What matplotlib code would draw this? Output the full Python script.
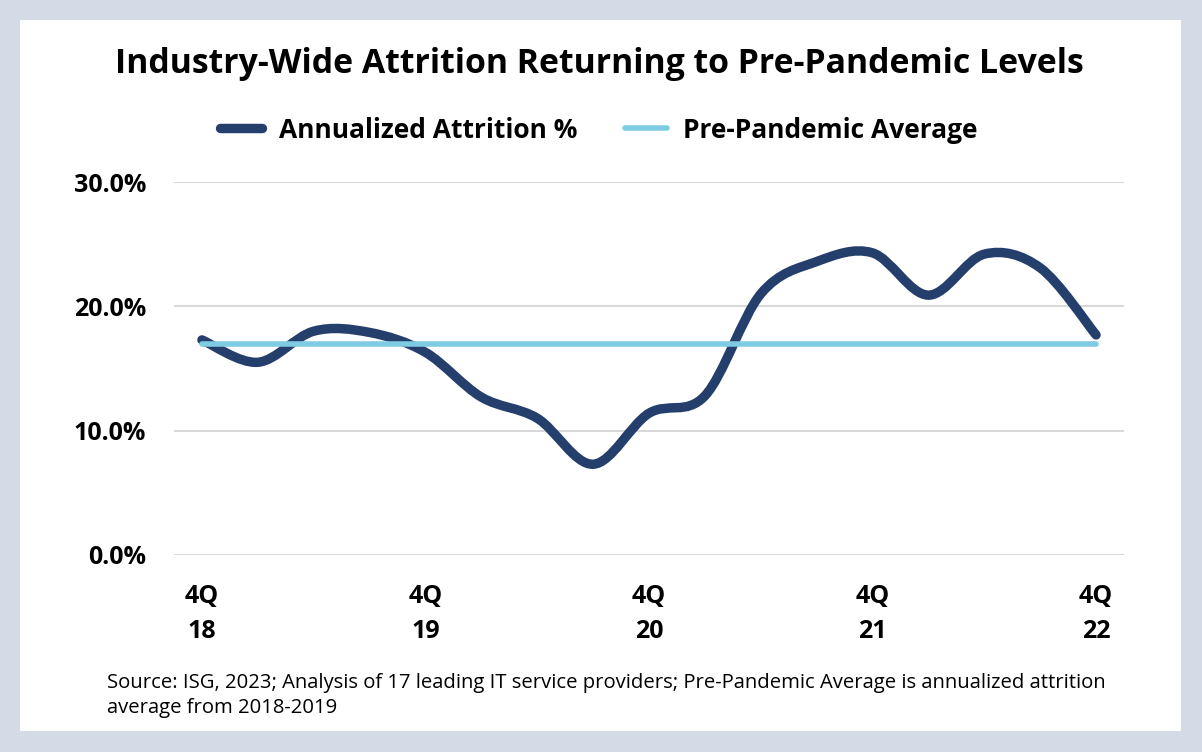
import matplotlib
matplotlib.use("Agg")
import matplotlib.pyplot as plt
from matplotlib.path import Path
from matplotlib.patches import PathPatch
from matplotlib.lines import Line2D
import numpy as np

# ---- data ----
quarters = ["4Q18", "1Q19", "2Q19", "3Q19", "4Q19", "1Q20", "2Q20", "3Q20", "4Q20",
            "1Q21", "2Q21", "3Q21", "4Q21", "1Q22", "2Q22", "3Q22", "4Q22"]
attrition = [17.3, 15.5, 18.0, 17.9, 16.3, 12.7, 11.0, 7.3, 11.4,
             12.8, 21.0, 23.6, 24.3, 20.9, 24.2, 23.1, 17.7]
pre_pandemic_avg = 17.0
tick_positions = [0, 4, 8, 12, 16]
tick_labels = ["4Q\n18", "4Q\n19", "4Q\n20", "4Q\n21", "4Q\n22"]
y_ticks = [0, 10, 20, 30]

title = "Industry-Wide Attrition Returning to Pre-Pandemic Levels"
footnote = ("Source: ISG, 2023; Analysis of 17 leading IT service providers; Pre-Pandemic Average is annualized attrition\n"
            "average from 2018-2019")

NAVY = "#243F6B"
LIGHT = "#7FCBE3"
BORDER = "#D5DBE6"
GRID = "#D9D9D9"
FONT = ["Open Sans", "DejaVu Sans"]

W, H = 1202, 752
fig = plt.figure(figsize=(W / 100, H / 100), dpi=100, facecolor=BORDER)

# white panel
bg = fig.add_axes([20 / W, 21 / H, (1181 - 20) / W, (731 - 20) / H], zorder=-5)
bg.set_facecolor("white")
bg.set_xticks([]); bg.set_yticks([])
for s in bg.spines.values():
    s.set_visible(False)

ax = fig.add_axes([174 / W, (H - 555) / H, (1124 - 174) / W, (555 - 182) / H], zorder=1)
ax.set_facecolor("none")
x = np.arange(len(attrition))
y = np.array(attrition, dtype=float)

# smoothed line (Excel-like Catmull-Rom bezier)
verts = [(x[0], y[0])]
codes = [Path.MOVETO]
n = len(x)
for i in range(n - 1):
    p0 = np.array([x[max(i - 1, 0)], y[max(i - 1, 0)]])
    p1 = np.array([x[i], y[i]])
    p2 = np.array([x[i + 1], y[i + 1]])
    p3 = np.array([x[min(i + 2, n - 1)], y[min(i + 2, n - 1)]])
    c1 = p1 + (p2 - p0) / 6.0
    c2 = p2 - (p3 - p1) / 6.0
    verts += [tuple(c1), tuple(c2), tuple(p2)]
    codes += [Path.CURVE4, Path.CURVE4, Path.CURVE4]
path = Path(verts, codes)
ax.add_patch(PathPatch(path, facecolor="none", edgecolor=NAVY, lw=6.8,
                       capstyle="round", joinstyle="round", zorder=3, clip_on=False))

ax.plot([x[0], x[-1]], [pre_pandemic_avg, pre_pandemic_avg], color=LIGHT, lw=4.0,
        solid_capstyle="round", zorder=4, clip_on=False)

ax.set_xlim(-0.5, len(x) - 0.5)
ax.set_ylim(0, 30)
ax.set_yticks(y_ticks)
ax.set_yticklabels([f"{v:.1f}%" for v in y_ticks])
ax.set_xticks(tick_positions)
ax.set_xticklabels(tick_labels, linespacing=1.5)
ax.grid(axis="y", color=GRID, lw=1.5)
ax.set_axisbelow(True)
for s in ax.spines.values():
    s.set_visible(False)
ax.tick_params(axis="both", length=0)
ax.tick_params(axis="y", pad=20)
ax.tick_params(axis="x", pad=21)
for lab in ax.get_yticklabels() + ax.get_xticklabels():
    lab.set_fontfamily(FONT)
    lab.set_fontweight("bold")
    lab.set_fontsize(18)
    lab.set_color("black")

fig.text(599 / W, (H - 64) / H, title, ha="center", va="center", fontsize=24.4,
         fontweight="bold", family=FONT, color="black")

handles = [Line2D([0], [0], color=NAVY, lw=6.8, solid_capstyle="round"),
           Line2D([0], [0], color=LIGHT, lw=4.0, solid_capstyle="round")]
leg = fig.legend(handles, ["Annualized Attrition %", "Pre-Pandemic Average"],
                 loc="center", bbox_to_anchor=(599 / W, (H - 130) / H), ncol=2,
                 frameon=False, handlelength=1.6, handletextpad=0.62,
                 columnspacing=1.8,
                 prop={"family": FONT, "weight": "bold", "size": 19})

fig.text(107 / W, (H - 695.5) / H, footnote, ha="left", va="center", fontsize=14.6,
         family=FONT, color="black", linespacing=1.3)

fig.savefig("out.png", dpi=100, facecolor=BORDER)
